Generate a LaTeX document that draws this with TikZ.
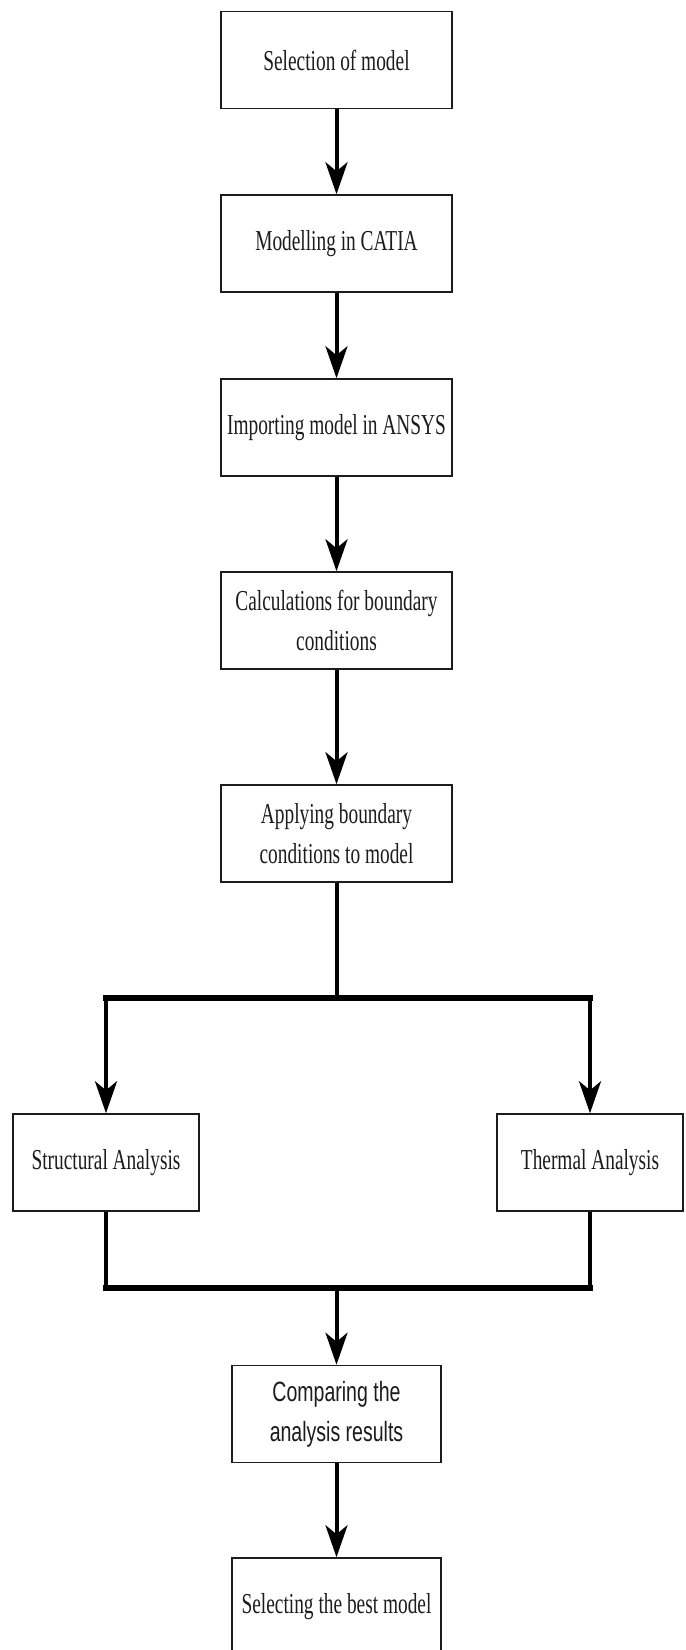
\documentclass[tikz,border=0pt]{standalone}
\usepackage{fontspec}
\setmainfont{Liberation Serif}[FakeStretch=0.67]
\newfontfamily\condsans{Liberation Sans}[FakeStretch=0.70]
\usetikzlibrary{arrows.meta}
\definecolor{ink}{RGB}{28,28,28}
\begin{document}
\begin{tikzpicture}[x=1bp,y=-1bp,
  box/.style={draw=ink, line width=1.5bp, fill=white, minimum width=231bp,
    minimum height=97bp, inner sep=0pt, align=center,
    font=\fontsize{29}{40}\selectfont, text=ink},
  sidebox/.style={box, minimum width=186bp},
  endbox/.style={box, minimum width=209bp},
  sansbox/.style={endbox, font=\condsans\fontsize{28}{40}\selectfont},
  arr/.style={line width=4bp, draw=black,
    -{Stealth[length=32bp,width=22bp,inset=9bp]}},
  link/.style={line width=4bp, draw=black},
  bar/.style={line width=6bp, draw=black, line cap=rect}]
\useasboundingbox (0,0) rectangle (686,1650);
\fill[white] (0,0) rectangle (686,1650);

\node[box] (b1) at (336.5,60) {Selection of model};
\node[box] (b2) at (336.5,243.5) {Modelling in CATIA};
\node[box] (b3) at (336.5,427.5) {Importing model in ANSYS};
\node[box] (b4) at (336.5,620.5) {Calculations for boundary\\conditions};
\node[box] (b5) at (336.5,833.5) {Applying boundary\\conditions to model};
\node[sidebox] (sa) at (106,1162.5) {Structural Analysis};
\node[sidebox] (ta) at (590,1162.5) {Thermal Analysis};
\node[sansbox] (b6) at (336.5,1414) {Comparing the\\analysis results};
\node[endbox] (b7) at (336.5,1606.5) {Selecting the best model};

\coordinate (j1) at (336.5,998);
\coordinate (j2) at (336.5,1288);

\draw[arr] (b1.south) -- (b2.north);
\draw[arr] (b2.south) -- (b3.north);
\draw[arr] (b3.south) -- (b4.north);
\draw[arr] (b4.south) -- (b5.north);

\draw[link] (b5.south) -- (j1);
\draw[bar] (sa.north |- j1) -- (ta.north |- j1);
\draw[arr] (sa.north |- j1) -- (sa.north);
\draw[arr] (ta.north |- j1) -- (ta.north);

\draw[link] (sa.south) -- (sa.south |- j2);
\draw[link] (ta.south) -- (ta.south |- j2);
\draw[bar] (sa.south |- j2) -- (ta.south |- j2);
\draw[arr] (j2) -- (b6.north);
\draw[arr] (b6.south) -- (b7.north);
\end{tikzpicture}
\end{document}
